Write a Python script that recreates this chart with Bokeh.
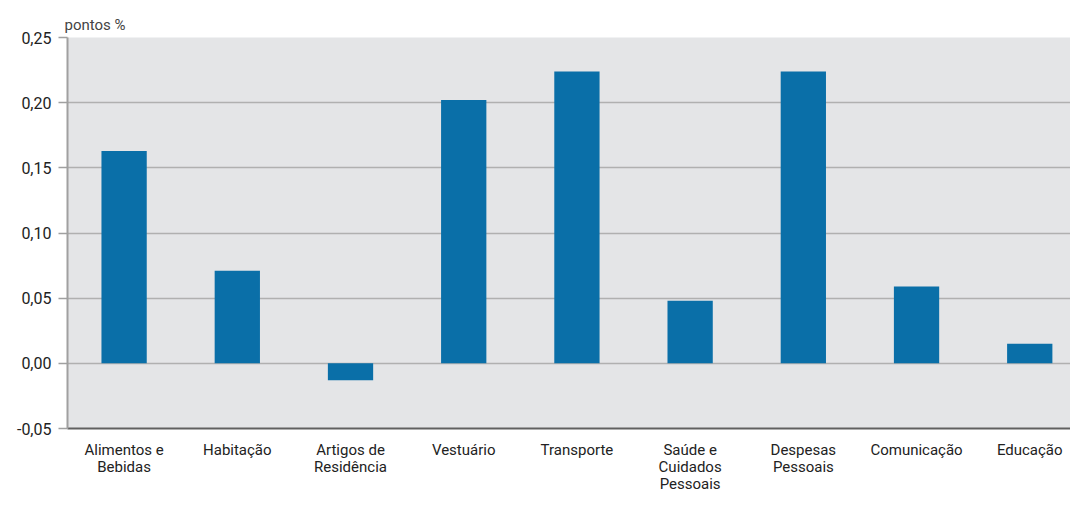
from bokeh.plotting import figure
from bokeh.models import Range1d, FixedTicker, CustomJSTickFormatter, ColumnDataSource
from bokeh.embed import file_html
from bokeh.resources import INLINE

categories = ["Alimentos e\nBebidas", "Habitação", "Artigos de\nResidência", "Vestuário",
              "Transporte", "Saúde e\nCuidados\nPessoais", "Despesas\nPessoais",
              "Comunicação", "Educação"]
values = [0.163, 0.071, -0.013, 0.202, 0.224, 0.048, 0.224, 0.059, 0.015]
y_ticks = [-0.05, 0.0, 0.05, 0.10, 0.15, 0.20, 0.25]
y_label = "pontos %"

FONT = "Roboto"

xs = list(range(len(categories)))
src = ColumnDataSource(dict(x=xs, top=values))

p = figure(width=1070, height=495, output_backend="svg", toolbar_location=None,
           x_range=Range1d(-0.5, 8.36), y_range=Range1d(-0.05, 0.25),
           min_border_left=67, min_border_right=0, min_border_top=37, min_border_bottom=54)

p.vbar(x="x", top="top", bottom=0, width=0.4, source=src, fill_color="#0a6fa8", line_color=None)

p.background_fill_color = "#e4e5e7"
p.border_fill_color = "white"
p.outline_line_color = None

p.title.text = y_label
p.title.text_font = FONT
p.title.text_font_size = "15px"
p.title.text_font_style = "normal"
p.title.text_color = "#444444"
p.title.align = "left"
p.title.offset = -3
p.title.standoff = 8

p.xgrid.grid_line_color = None
p.ygrid.grid_line_color = "#b0b0b0"
p.ygrid.grid_line_width = 1.5

p.yaxis.ticker = FixedTicker(ticks=y_ticks)
p.yaxis.formatter = CustomJSTickFormatter(code="return tick.toFixed(2).replace('.', ',');")
p.yaxis.axis_line_color = "#a0a0a0"
p.yaxis.axis_line_width = 2
p.yaxis.major_tick_line_color = "#a0a0a0"
p.yaxis.major_tick_line_width = 1.5
p.yaxis.major_tick_out = 9
p.yaxis.major_tick_in = 0
p.yaxis.minor_tick_line_color = None
p.yaxis.major_label_text_font = FONT
p.yaxis.major_label_text_font_size = "16px"
p.yaxis.major_label_text_color = "#222222"
p.yaxis.major_label_standoff = 7

p.xaxis.ticker = FixedTicker(ticks=xs)
p.xaxis.major_label_overrides = {i: c for i, c in zip(xs, categories)}
p.xaxis.axis_line_color = "#606060"
p.xaxis.axis_line_width = 2
p.xaxis.major_tick_line_color = None
p.xaxis.minor_tick_line_color = None
p.xaxis.major_label_text_font = FONT
p.xaxis.major_label_text_font_size = "15px"
p.xaxis.major_label_text_line_height = 0.95
p.xaxis.major_label_text_color = "#222222"
p.xaxis.major_label_standoff = 6

open("out.html", "w").write(file_html(p, INLINE))
